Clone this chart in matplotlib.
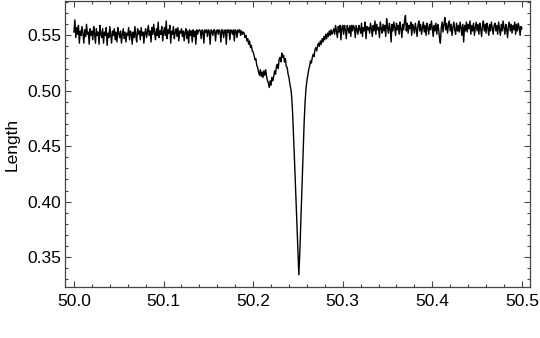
#!/usr/bin/env python3
# -*- coding: utf-8 -*-
"""
    Recreate the "Length" trace: a flat noisy baseline with a dip near 50.25.
"""

import matplotlib
matplotlib.use("Agg")
import matplotlib.pyplot as plt
from matplotlib.ticker import MultipleLocator
import numpy as np

# Values, one every 0.001 on the x axis (50.000 .. 50.500)

# 50.000 .. 50.189 : noisy baseline (the last part has a flat top)
lengthLeft = [
    0.553, 0.564, 0.548, 0.557, 0.551, 0.559, 0.543, 0.554, 0.550, 0.558, 0.552, 0.543, 0.555, 0.549, 0.560, 0.551, 0.553, 0.542, 0.556, 0.550,
    0.554, 0.546, 0.558, 0.552, 0.543, 0.556, 0.550, 0.553, 0.542, 0.559, 0.551, 0.548, 0.556, 0.543, 0.553, 0.550, 0.557, 0.541, 0.552, 0.548,
    0.558, 0.551, 0.543, 0.554, 0.550, 0.556, 0.546, 0.553, 0.544, 0.557, 0.552, 0.548, 0.554, 0.543, 0.551, 0.556, 0.547, 0.553, 0.544, 0.552,
    0.550, 0.557, 0.546, 0.554, 0.551, 0.542, 0.553, 0.548, 0.558, 0.550, 0.544, 0.556, 0.551, 0.554, 0.546, 0.557, 0.550, 0.553, 0.543, 0.552,
    0.556, 0.548, 0.553, 0.559, 0.550, 0.554, 0.544, 0.557, 0.551, 0.560, 0.552, 0.546, 0.556, 0.550, 0.562, 0.548, 0.554, 0.551, 0.558, 0.545,
    0.553, 0.557, 0.550, 0.563, 0.547, 0.555, 0.552, 0.559, 0.543, 0.554, 0.551, 0.558, 0.547, 0.553, 0.556, 0.549, 0.557, 0.545, 0.554, 0.552,
    0.556, 0.549, 0.554, 0.545, 0.553, 0.556, 0.547, 0.554, 0.543, 0.555, 0.550, 0.554, 0.544, 0.555, 0.549, 0.554, 0.542, 0.555, 0.551, 0.554,
    0.555, 0.554, 0.547, 0.555, 0.554, 0.543, 0.555, 0.553, 0.555, 0.549, 0.555, 0.554, 0.542, 0.555, 0.554, 0.550, 0.555, 0.555, 0.545, 0.554,
    0.555, 0.551, 0.555, 0.554, 0.544, 0.555, 0.555, 0.548, 0.554, 0.555, 0.542, 0.555, 0.553, 0.555, 0.546, 0.555, 0.554, 0.551, 0.555, 0.545,
    0.555, 0.554, 0.548, 0.555, 0.553, 0.555, 0.550, 0.554, 0.551, 0.553,
]

# 50.190 .. 50.289 : shoulder and sharp dip
lengthDip = [
    0.552, 0.548, 0.550, 0.545, 0.547, 0.542, 0.545, 0.539, 0.541, 0.536,
    0.535, 0.532, 0.528, 0.529, 0.523, 0.521, 0.517, 0.514, 0.519, 0.513,
    0.517, 0.512, 0.518, 0.514, 0.519, 0.513, 0.509, 0.507, 0.503, 0.509,
    0.505, 0.512, 0.509, 0.513, 0.518, 0.515, 0.522, 0.524, 0.520, 0.528,
    0.530, 0.526, 0.534, 0.530, 0.532, 0.526, 0.529, 0.522, 0.521, 0.515,
    0.512, 0.506, 0.502, 0.495, 0.481, 0.462, 0.441, 0.420, 0.399, 0.378,
    0.357, 0.334, 0.352, 0.376, 0.401, 0.425, 0.449, 0.473, 0.490, 0.502,
    0.509, 0.514, 0.519, 0.522, 0.527, 0.525, 0.530, 0.533, 0.531, 0.537,
    0.539, 0.536, 0.541, 0.543, 0.540, 0.545, 0.542, 0.547, 0.544, 0.549,
    0.546, 0.551, 0.547, 0.552, 0.549, 0.554, 0.550, 0.555, 0.551, 0.553,
]

# 50.290 .. 50.500 : noisy baseline, slightly higher than on the left
lengthRight = [
    0.556, 0.551, 0.559, 0.554, 0.548, 0.558, 0.553, 0.559, 0.546, 0.557, 0.559, 0.551, 0.559, 0.555, 0.547, 0.559, 0.556, 0.552, 0.559, 0.549,
    0.559, 0.554, 0.559, 0.557, 0.548, 0.559, 0.555, 0.551, 0.559, 0.556, 0.552, 0.561, 0.549, 0.557, 0.554, 0.562, 0.547, 0.558, 0.555, 0.557,
    0.552, 0.561, 0.556, 0.549, 0.559, 0.554, 0.563, 0.551, 0.560, 0.555, 0.557, 0.548, 0.562, 0.556, 0.552, 0.560, 0.554, 0.559, 0.549, 0.565,
    0.557, 0.552, 0.561, 0.556, 0.544, 0.560, 0.554, 0.562, 0.557, 0.550, 0.561, 0.555, 0.559, 0.551, 0.562, 0.556, 0.548, 0.560, 0.555, 0.563,
    0.568, 0.554, 0.561, 0.552, 0.559, 0.556, 0.562, 0.550, 0.560, 0.557, 0.552, 0.561, 0.556, 0.549, 0.559, 0.563, 0.554, 0.560, 0.551, 0.557,
    0.562, 0.553, 0.559, 0.550, 0.561, 0.557, 0.551, 0.560, 0.555, 0.563, 0.556, 0.549, 0.559, 0.554, 0.561, 0.551, 0.560, 0.556, 0.548, 0.543,
    0.557, 0.562, 0.553, 0.560, 0.566, 0.555, 0.561, 0.552, 0.559, 0.563, 0.554, 0.560, 0.550, 0.557, 0.562, 0.555, 0.551, 0.561, 0.554, 0.559,
    0.553, 0.562, 0.557, 0.550, 0.560, 0.544, 0.559, 0.554, 0.562, 0.553, 0.560, 0.556, 0.563, 0.551, 0.559, 0.554, 0.561, 0.550, 0.557, 0.562,
    0.554, 0.560, 0.551, 0.561, 0.556, 0.549, 0.559, 0.563, 0.554, 0.560, 0.552, 0.561, 0.557, 0.550, 0.560, 0.554, 0.562, 0.556, 0.551, 0.559,
    0.561, 0.554, 0.559, 0.551, 0.562, 0.556, 0.550, 0.560, 0.554, 0.563, 0.557, 0.551, 0.560, 0.556, 0.548, 0.559, 0.562, 0.554, 0.560, 0.552,
    0.559, 0.555, 0.562, 0.551, 0.560, 0.554, 0.561, 0.557, 0.550, 0.558, 0.556,
]

xStart = 50.0
xEnd = 50.5

xTicks = [50.0, 50.1, 50.2, 50.3, 50.4, 50.5]
yTicks = [0.35, 0.40, 0.45, 0.50, 0.55]


def main():
    plt.rcParams['font.family'] = ['Liberation Sans', 'DejaVu Sans']

    # juntamos los tres tramos en una sola serie
    length = np.array(lengthLeft + lengthDip + lengthRight)
    xValues = np.linspace(xStart, xEnd, len(length))

    fig = plt.figure(figsize=(5.4, 3.38), dpi=100)
    ax = fig.add_axes([0.1204, 0.151, 0.861, 0.846])

    ax.plot(xValues, length, color="black", linewidth=1.0)

    ax.set_xlim(49.990, 50.509)
    ax.set_ylim(0.323, 0.581)

    ax.set_xticks(xTicks)
    ax.set_xticklabels(["%.1f" % t for t in xTicks])
    ax.set_yticks(yTicks)
    ax.set_yticklabels(["%.2f" % t for t in yTicks])
    ax.xaxis.set_minor_locator(MultipleLocator(0.02))
    ax.yaxis.set_minor_locator(MultipleLocator(0.01))

    # ticks hacia dentro en los cuatro lados, estilo Mathematica
    ax.tick_params(which="both", direction="in", top=True, right=True,
                   color="#444444", width=0.8, labelsize=12.5)
    ax.tick_params(which="major", length=4.5)
    ax.tick_params(which="minor", length=2.5)
    ax.tick_params(axis="x", which="major", pad=5)
    ax.tick_params(axis="y", which="major", pad=2.5)

    for spine in ax.spines.values():
        spine.set_color("#444444")
        spine.set_linewidth(0.9)

    ax.set_ylabel("Length", fontsize=12.5, labelpad=6)

    fig.savefig("out.png", dpi=100)


if __name__ == "__main__":
    main()
